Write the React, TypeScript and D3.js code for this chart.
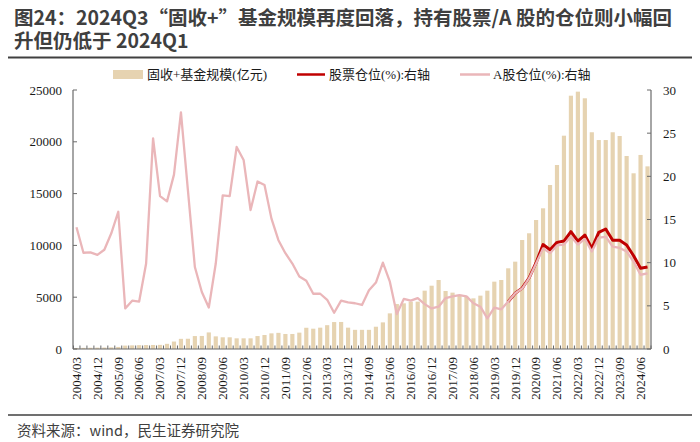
import React from "react";
import * as d3 from "d3";

// Categories: quarters 2004Q1 .. 2024Q3
const quarters: string[] = [];
for (let y = 2004; y <= 2024; y++) {
  for (const m of ["03", "06", "09", "12"]) {
    if (y === 2024 && m === "12") continue;
    quarters.push(`${y}/${m}`);
  }
}

// 固收+基金规模(亿元) – left axis
const fundSize: number[] = [
  100, 110, 120, 130, 140, 160, 200, 330, 350, 370,
  380, 390, 400, 500, 720, 980, 990, 1250, 1260, 1600,
  1220, 1130, 1130, 1030, 1030, 1030, 1250, 1350, 1510, 1560,
  1450, 1450, 1580, 2050, 1960, 2060, 2300, 2600, 2610, 2060,
  1850, 1850, 1850, 2150, 2570, 3440, 4340, 4410, 4570, 4570,
  5630, 6110, 6660, 5600, 5440, 5210, 5050, 4890, 5150, 5630,
  6500, 6660, 7790, 8430, 10520, 11170, 12450, 13580, 15830, 17760,
  20590, 24450, 24840, 24200, 20920, 20170, 20170, 20920, 20560, 18630,
  16960, 18730, 17630,
];

// A股仓位(%) – right axis
const aSharePos: number[] = [
  14.1, 11.15, 11.2, 10.9, 11.5, 13.4, 15.9, 4.7, 5.6, 5.5,
  9.9, 24.4, 17.7, 17.1, 20.2, 27.4, 18.4, 9.5, 6.6, 4.8,
  9.9, 17.8, 17.7, 23.4, 21.9, 16.1, 19.4, 19.0, 15.1, 12.6,
  11.1, 9.9, 8.4, 7.9, 6.4, 6.4, 5.7, 4.2, 5.6, 5.4,
  5.3, 5.1, 6.8, 7.7, 10.0, 7.8, 4.05, 5.8, 5.6, 5.9,
  5.2, 4.7, 4.9, 5.9, 6.1, 6.25, 6.1, 5.3, 4.9, 3.55,
  4.8, 4.6, 5.5, 6.45, 7.0, 8.2, 9.9, 11.65, 11.1, 12.0,
  12.1, 13.0, 12.1, 12.75, 11.3, 12.9, 13.0, 11.85, 11.7, 11.3,
  10.1, 8.6, 8.75,
];

// 股票仓位(%) – right axis (null before series starts)
const stockPos: (number | null)[] = [
  ...Array(62).fill(null),
  5.5, 6.45, 7.05, 8.25, 10.0, 12.1, 11.5, 12.35,
  12.5, 13.6, 12.5, 13.2, 11.65, 13.5, 13.9, 12.6, 12.6, 12.05,
  10.8, 9.35, 9.5,
];

const leftTicks = [0, 5000, 10000, 15000, 20000, 25000];
const rightTicks = [0, 5, 10, 15, 20, 25, 30];

const titleLine1 = "图24：2024Q3“固收+”基金规模再度回落，持有股票/A 股的仓位则小幅回";
const titleLine2 = "升但仍低于 2024Q1";
const sourceText = "资料来源：wind，民生证券研究院";

const BAR = "#e6d3b1";
const RED = "#c00000";
const PINK = "#eab6b9";
const AXIS = "#6b6b6b";
const SERIF = "'Liberation Serif', 'Times New Roman', Times, 'DejaVu Serif', serif";
const LEGEND_FONT = "'Liberation Serif', 'Times New Roman', Times, 'Noto Sans CJK SC', serif";
const SANS = "'Noto Sans CJK SC', 'Noto Sans', sans-serif";

export default function App() {
  const left = 73, right = 651, top = 90, bottom = 349;
  const x = d3.scaleBand<string>().domain(quarters).range([left, right]).paddingInner(0.4).paddingOuter(0.2);
  const yL = d3.scaleLinear().domain([0, 25000]).range([bottom, top]);
  const yR = d3.scaleLinear().domain([0, 30]).range([bottom, top]);
  const cx = (i: number) => (x(quarters[i]) as number) + x.bandwidth() / 2;
  const step = x.step();

  const lineA = d3.line<number>().x((_, i) => cx(i)).y((d) => yR(d));
  const lineS = d3
    .line<number | null>()
    .defined((d) => d !== null)
    .x((_, i) => cx(i))
    .y((d) => yR(d as number));

  const tickText = { fontFamily: SERIF, fontSize: 13, fill: "#1a1a1a" } as React.CSSProperties;
  const legText = { fontFamily: LEGEND_FONT, fontSize: 13, fill: "#1a1a1a" } as React.CSSProperties;

  return (
    <svg width={700} height={442} style={{ position: "absolute", left: 0, top: 0, background: "#fff" }}>
      <rect x={0} y={0} width={700} height={442} fill="#fff" />
      {/* Title */}
      <text x={14} y={24.5} style={{ fontFamily: SANS, fontWeight: 700, fontSize: 19.5, fill: "#3f3f3f" }}>{titleLine1}</text>
      <text x={14} y={48} style={{ fontFamily: SANS, fontWeight: 700, fontSize: 19.5, fill: "#3f3f3f" }}>{titleLine2}</text>
      <line x1={8} x2={692} y1={57.5} y2={57.5} stroke="#404040" strokeWidth={2} />

      {/* Legend */}
      <rect x={113} y={70} width={30} height={9} fill={BAR} />
      <text x={147} y={74.5} dy="0.35em" style={legText}>固收+基金规模(亿元)</text>
      <line x1={297} x2={325} y1={74.5} y2={74.5} stroke={RED} strokeWidth={2.5} />
      <text x={329} y={74.5} dy="0.35em" style={legText}>股票仓位(%):右轴</text>
      <line x1={460} x2={490} y1={74.5} y2={74.5} stroke={PINK} strokeWidth={2.5} />
      <text x={493} y={74.5} dy="0.35em" style={legText}>A股仓位(%):右轴</text>

      {/* Bars */}
      {fundSize.map((v, i) => (
        <rect key={i} x={x(quarters[i])} y={yL(v)} width={x.bandwidth()} height={bottom - yL(v)} fill={BAR} />
      ))}

      {/* Lines */}
      <path d={lineS(stockPos) || ""} fill="none" stroke={RED} strokeWidth={3} strokeLinejoin="round" />
      <path d={lineA(aSharePos) || ""} fill="none" stroke={PINK} strokeWidth={2.3} strokeLinejoin="round" />

      {/* Axes */}
      <line x1={left} x2={left} y1={top} y2={bottom} stroke={AXIS} strokeWidth={1.2} />
      <line x1={right} x2={right} y1={top} y2={bottom} stroke={AXIS} strokeWidth={1.2} />
      <line x1={left} x2={right} y1={bottom} y2={bottom} stroke={AXIS} strokeWidth={1.2} />
      {leftTicks.map((t) => (
        <g key={"l" + t}>
          <line x1={left} x2={left + 4} y1={yL(t)} y2={yL(t)} stroke={AXIS} />
          <text x={62} y={yL(t)} dy="0.35em" textAnchor="end" style={tickText}>{t}</text>
        </g>
      ))}
      {rightTicks.map((t) => (
        <g key={"r" + t}>
          <line x1={right - 4} x2={right} y1={yR(t)} y2={yR(t)} stroke={AXIS} />
          <text x={663} y={yR(t)} dy="0.35em" textAnchor="start" style={tickText}>{t}</text>
        </g>
      ))}
      {quarters.map((q, i) => (
        <line key={"t" + i} x1={cx(i) + step / 2} x2={cx(i) + step / 2} y1={bottom} y2={bottom - 3.5} stroke={AXIS} />
      ))}
      <line x1={left + 0.5} x2={left + 0.5} y1={bottom} y2={bottom - 3.5} stroke={AXIS} />
      {quarters.map((q, i) =>
        i % 3 === 0 ? (
          <text
            key={"x" + i}
            transform={`translate(${cx(i)},${357}) rotate(-90)`}
            dy="0.33em"
            textAnchor="end"
            style={tickText}
          >
            {q}
          </text>
        ) : null
      )}

      {/* Source */}
      <line x1={8} x2={692} y1={415} y2={415} stroke="#404040" strokeWidth={1.5} />
      <text x={17} y={431} dy="0.35em" style={{ fontFamily: SANS, fontSize: 14.5, fill: "#404040" }}>{sourceText}</text>
    </svg>
  );
}
